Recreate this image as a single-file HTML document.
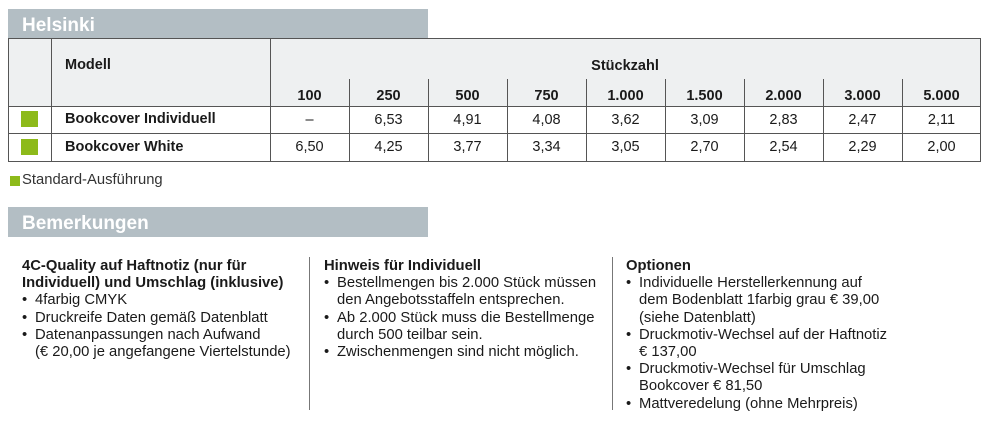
<!DOCTYPE html>
<html><head><meta charset="utf-8"><style>
body{margin:0;width:1000px;height:427px;background:#fff;position:relative;font-family:"Liberation Sans",sans-serif;color:#1a1a1a;overflow:hidden}
.a{position:absolute}
.bar{background:#b3bec4;color:#fff;font-weight:bold;font-size:19px;padding-left:14px;box-sizing:border-box;line-height:34px}
.hl{position:absolute;height:1px;background:#555}
.vl{position:absolute;width:1px;background:#555}
.c{position:absolute;width:79px;text-align:center;font-size:14.5px;line-height:20px}
.b{font-weight:bold}
.sq{position:absolute;width:17px;height:16px;background:#8dba1a}
.col{position:absolute;top:258px;font-size:14.8px;line-height:17.2px}
.col div{padding-left:13px;position:relative}
.col div.h{padding-left:0;font-weight:bold}
.col div.li:before{content:"•";position:absolute;left:0}
</style></head><body>
<div class="a bar" style="left:8px;top:9px;width:420px;height:30px">Helsinki</div>
<div class="a" style="left:8px;top:39px;width:972px;height:67px;background:#eef0f1"></div>
<div class="hl" style="left:8px;top:38px;width:973px"></div>
<div class="hl" style="left:8px;top:106px;width:973px"></div>
<div class="hl" style="left:8px;top:133px;width:973px"></div>
<div class="hl" style="left:8px;top:161px;width:973px"></div>
<div class="vl" style="left:8px;top:38px;height:124px"></div>
<div class="vl" style="left:980px;top:38px;height:124px"></div>
<div class="vl" style="left:51px;top:38px;height:124px"></div>
<div class="vl" style="left:270px;top:38px;height:124px"></div>
<div class="vl" style="left:349px;top:79px;height:83px"></div>
<div class="vl" style="left:428px;top:79px;height:83px"></div>
<div class="vl" style="left:507px;top:79px;height:83px"></div>
<div class="vl" style="left:586px;top:79px;height:83px"></div>
<div class="vl" style="left:665px;top:79px;height:83px"></div>
<div class="vl" style="left:744px;top:79px;height:83px"></div>
<div class="vl" style="left:823px;top:79px;height:83px"></div>
<div class="vl" style="left:902px;top:79px;height:83px"></div>
<div class="a b" style="left:65px;top:57px;font-size:14.5px">Modell</div>
<div class="a b" style="left:270px;width:710px;top:58px;font-size:14.5px;text-align:center">Stückzahl</div>
<div class="sq" style="left:21px;top:111px"></div>
<div class="sq" style="left:21px;top:139px"></div>
<div class="a b" style="left:65px;top:111px;font-size:14.5px">Bookcover Individuell</div>
<div class="a b" style="left:65px;top:139px;font-size:14.5px">Bookcover White</div>
<div class="c b" style="left:270px;top:86px">100</div><div class="c b" style="left:349px;top:86px">250</div><div class="c b" style="left:428px;top:86px">500</div><div class="c b" style="left:507px;top:86px">750</div><div class="c b" style="left:586px;top:86px">1.000</div><div class="c b" style="left:665px;top:86px">1.500</div><div class="c b" style="left:744px;top:86px">2.000</div><div class="c b" style="left:823px;top:86px">3.000</div><div class="c b" style="left:902px;top:86px">5.000</div>
<div class="c" style="left:270px;top:110px">–</div><div class="c" style="left:349px;top:110px">6,53</div><div class="c" style="left:428px;top:110px">4,91</div><div class="c" style="left:507px;top:110px">4,08</div><div class="c" style="left:586px;top:110px">3,62</div><div class="c" style="left:665px;top:110px">3,09</div><div class="c" style="left:744px;top:110px">2,83</div><div class="c" style="left:823px;top:110px">2,47</div><div class="c" style="left:902px;top:110px">2,11</div>
<div class="c" style="left:270px;top:137px">6,50</div><div class="c" style="left:349px;top:137px">4,25</div><div class="c" style="left:428px;top:137px">3,77</div><div class="c" style="left:507px;top:137px">3,34</div><div class="c" style="left:586px;top:137px">3,05</div><div class="c" style="left:665px;top:137px">2,70</div><div class="c" style="left:744px;top:137px">2,54</div><div class="c" style="left:823px;top:137px">2,29</div><div class="c" style="left:902px;top:137px">2,00</div>
<div class="a" style="left:10px;top:176px;width:10px;height:10px;background:#8dba1a"></div>
<div class="a" style="left:22px;top:172px;font-size:14.8px;color:#333">Standard-Ausführung</div>
<div class="a bar" style="left:8px;top:207px;width:420px;height:30px">Bemerkungen</div>
<div class="vl" style="left:309px;top:257px;height:153px;background:#777"></div>
<div class="vl" style="left:612px;top:257px;height:153px;background:#777"></div>
<div class="col" style="left:22px"><div class="h">4C-Quality auf Haftnotiz (nur für<br>Individuell) und Umschlag (inklusive)</div><div class="li">4farbig CMYK</div><div class="li">Druckreife Daten gemäß Datenblatt</div><div class="li">Datenanpassungen nach Aufwand<br>(€ 20,00 je angefangene Viertelstunde)</div></div>
<div class="col" style="left:324px"><div class="h">Hinweis für Individuell</div><div class="li">Bestellmengen bis 2.000 Stück müssen<br>den Angebotsstaffeln entsprechen.</div><div class="li">Ab 2.000 Stück muss die Bestellmenge<br>durch 500 teilbar sein.</div><div class="li">Zwischenmengen sind nicht möglich.</div></div>
<div class="col" style="left:626px"><div class="h">Optionen</div><div class="li">Individuelle Herstellerkennung auf<br>dem Bodenblatt 1farbig grau € 39,00<br>(siehe Datenblatt)</div><div class="li">Druckmotiv-Wechsel auf der Haftnotiz<br>€ 137,00</div><div class="li">Druckmotiv-Wechsel für Umschlag<br>Bookcover € 81,50</div><div class="li">Mattveredelung (ohne Mehrpreis)</div></div>
</body></html>
